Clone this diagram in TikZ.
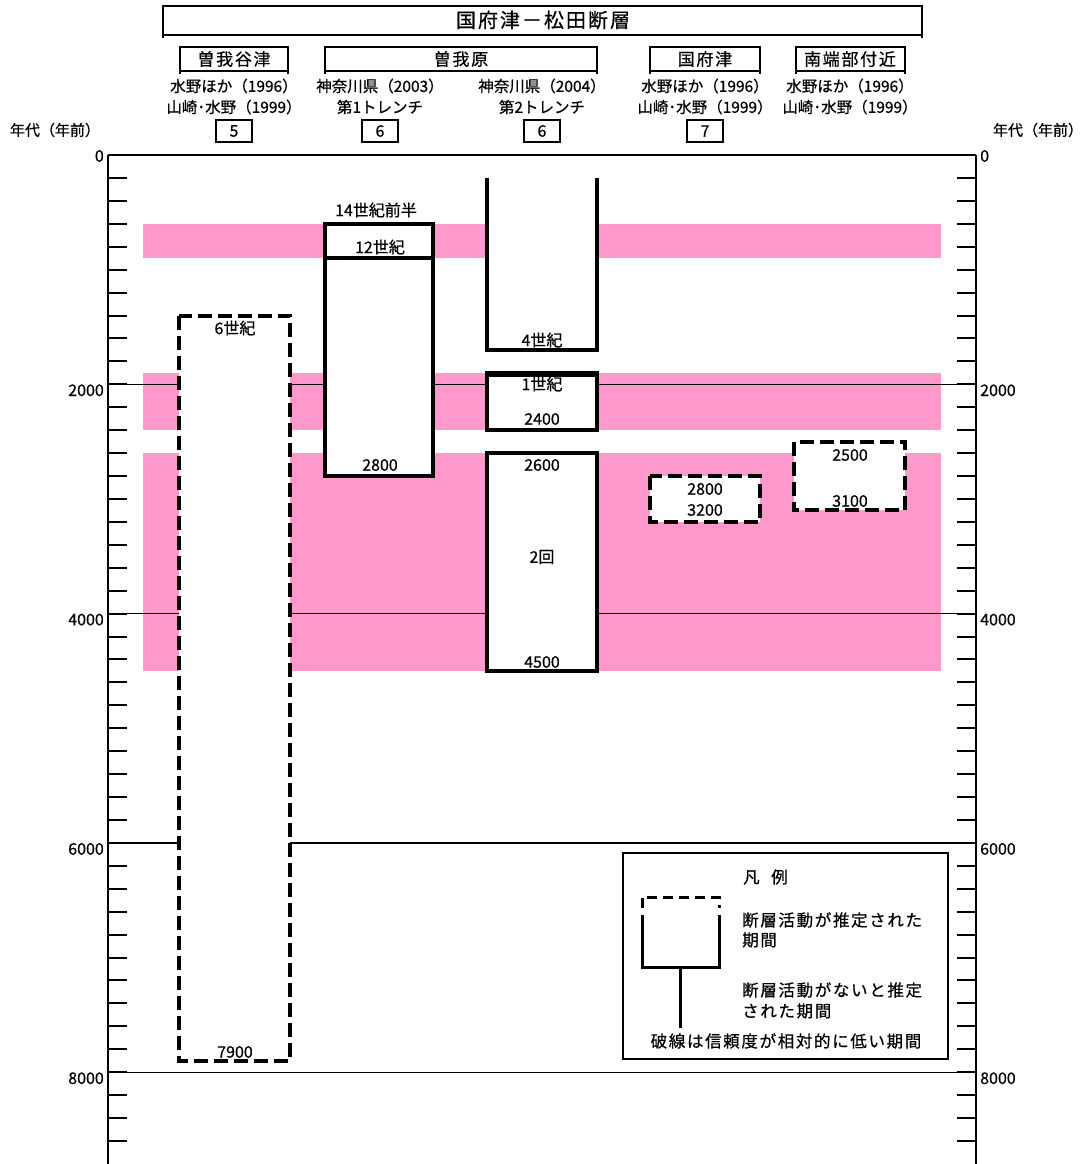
\documentclass[tikz,border=0pt]{standalone}
\usepackage{fontspec}
\setmainfont{Noto Sans CJK JP}[FakeBold=0.6]
\newfontfamily\trackfont{Noto Sans CJK JP}[LetterSpace=10,FakeBold=0.6]
\definecolor{bandpink}{RGB}{255,153,204}
\newcommand\ypos[1]{155+0.11465*#1}
\begin{document}
\begin{tikzpicture}[x=1pt,y=-1pt,
  every node/.style={inner sep=0pt},
  lbl/.style={font=\fontsize{16}{18}\selectfont},
  ref/.style={font=\fontsize{15.5}{17}\selectfont},
  axlbl/.style={font=\fontsize{15}{17}\selectfont},
  axnum/.style={font=\fontsize{16}{18}\selectfont},
  legtxt/.style={font=\trackfont\fontsize{16.5}{18}\selectfont},
  hdrline/.style={line width=1.5pt},
  numbox/.style={draw, line width=1.3pt, minimum width=36pt, minimum height=22pt, font=\fontsize{16}{18}\selectfont},
  solidbox/.style={draw, line width=4pt, fill=white},
  dashbox/.style={draw, line width=4pt, fill=white, dash pattern=on 14pt off 6pt},
  band/.style={fill=bandpink, draw=none},
  gridline/.style={line width=1.2pt},
  axisline/.style={line width=2pt},
  tickline/.style={line width=2pt},
]
\useasboundingbox (0,0) rectangle (1090,1164);

% ---------- header ----------
\node[font=\trackfont\fontsize{20}{22}\selectfont] (title) at (543,20) {国府津－松田断層};
\draw[hdrline] (163,6) rectangle (922,35);
\draw[hdrline] (163,35) -- (163,38) (922,35) -- (922,38);

\node[font=\trackfont\fontsize{17}{19}\selectfont] (hSoga) at (234,59) {曽我谷津};
\node[font=\trackfont\fontsize{17}{19}\selectfont] (hSogahara) at (461,59) {曽我原};
\node[font=\trackfont\fontsize{17}{19}\selectfont] (hKozu) at (705,59) {国府津};
\node[font=\trackfont\fontsize{17}{19}\selectfont] (hNan) at (850,59) {南端部付近};
\foreach \a/\b in {180/288,325/597,650/760,796/905}{
  \draw[hdrline] (\a,47) rectangle (\b,71);
  \draw[hdrline] (\a,71) -- (\a,74) (\b,71) -- (\b,74);
}

\node[ref] (r1a) at (234,86) {水野ほか（1996）};
\node[ref] (r1b) at (234,107) {山崎･水野（1999）};
\node[ref] (r2a) at (380,86) {神奈川県（2003）};
\node[ref] (r2b) at (380,107) {第1トレンチ};
\node[ref] (r3a) at (542,86) {神奈川県（2004）};
\node[ref] (r3b) at (542,107) {第2トレンチ};
\node[ref] (r4a) at (705,86) {水野ほか（1996）};
\node[ref] (r4b) at (705,107) {山崎･水野（1999）};
\node[ref] (r5a) at (850,86) {水野ほか（1996）};
\node[ref] (r5b) at (850,107) {山崎･水野（1999）};

\node[numbox] (n5) at (234,131) {5};
\node[numbox] (n6a) at (380,131) {6};
\node[numbox] (n6b) at (542,131) {6};
\node[numbox] (n7) at (705,131) {7};

\node[axlbl] (axL) at (55,130) {年代（年前）};
\node[axlbl] (axR) at (1038,130) {年代（年前）};

% ---------- bands ----------
\fill[band] (143,{\ypos{600}}) rectangle (941,{\ypos{900}});
\fill[band] (143,{\ypos{1900}}) rectangle (941,{\ypos{2400}});
\fill[band] (143,{\ypos{2600}}) rectangle (941,{\ypos{4500}});

% ---------- grid & axes ----------
\draw[gridline] (108,155) -- (976,155);
\foreach \v in {2000,4000,6000,8000}{
  \draw[gridline] (108,{\ypos{\v}}) -- (976,{\ypos{\v}});
}
\foreach \k in {1,...,43}{
  \draw[tickline] (108,{155+22.93*\k}) -- ++(19,0);
  \draw[tickline] (976,{155+22.93*\k}) -- ++(-19,0);
}
\draw[axisline] (108,155) -- (108,1164);
\draw[axisline] (976,155) -- (976,1164);

\node[axnum, anchor=east] (l0) at (104,156) {0};
\node[axnum, anchor=west] (r0) at (980,156) {0};
\foreach \v/\nm in {2000/a,4000/b,6000/c,8000/d}{
  \node[axnum, anchor=east] (lv\nm) at (104,{\ypos{\v}+6}) {\v};
  \node[axnum, anchor=west] (rv\nm) at (980,{\ypos{\v}+6}) {\v};
}

% ---------- columns ----------
% 曽我谷津
\draw[dashbox] (179,{\ypos{1400}}) rectangle (290,{\ypos{7900}});
% 第1トレンチ
\draw[solidbox] (325,{\ypos{600}}) rectangle (433,{\ypos{2800}});
\draw[line width=4pt] (325,{\ypos{900}}) -- (433,{\ypos{900}});
% 第2トレンチ
\fill[white] (487,{\ypos{200}}) rectangle (597,{\ypos{1700}});
\draw[line width=4pt] (487,{\ypos{200}}) -- (487,{\ypos{1700}}) -- (597,{\ypos{1700}}) -- (597,{\ypos{200}});
\draw[solidbox] (487,{\ypos{1900}}) rectangle (597,{\ypos{2400}});
\draw[line width=6pt] (485,{\ypos{1900}+1}) -- (599,{\ypos{1900}+1});
\draw[solidbox] (487,{\ypos{2600}}) rectangle (597,{\ypos{4500}});
% 国府津
\draw[dashbox] (650,{\ypos{2800}}) rectangle (760,{\ypos{3200}});
% 南端部付近
\draw[dashbox] (794,{\ypos{2500}}) rectangle (905,{\ypos{3100}});

\node[lbl] (s6c) at (235,328) {6世紀};
\node[lbl] (s79) at (235,1052) {7900};
\node[lbl] (t14c) at (376,210) {14世紀前半};
\node[lbl] (t12c) at (380,247) {12世紀};
\node[lbl] (t28) at (380,465) {2800};
\node[lbl] (t4c) at (542,340) {4世紀};
\node[lbl] (t1c) at (542,384) {1世紀};
\node[lbl] (t24) at (542,419) {2400};
\node[lbl] (t26) at (542,465) {2600};
\node[lbl] (t2k) at (542,557) {2回};
\node[lbl] (t45) at (542,662) {4500};
\node[lbl] (k28) at (705,489) {2800};
\node[lbl] (k32) at (705,510) {3200};
\node[lbl] (n25) at (850,455) {2500};
\node[lbl] (n31) at (850,501) {3100};

% ---------- legend ----------
\draw[line width=1.3pt, fill=white] (623,853) rectangle (948,1059);
\node[legtxt, anchor=west] (lg0) at (743,877) {凡\hspace{0.7em}例};
\draw[line width=3pt, dash pattern=on 10pt off 6pt] (642,908) -- (642,897) -- (719,897) -- (719,908);
\draw[line width=3pt] (642,915) -- (642,967) -- (719,967) -- (719,915);
\coordinate (stemTop) at (680,967);
\coordinate (stemBot) at (680,1028);
\draw[line width=3pt] (stemTop) -- (stemBot);
\node[legtxt, anchor=west] (lg1) at (742,920) {断層活動が推定された};
\node[legtxt, anchor=west] (lg2) at (742,940) {期間};
\node[legtxt, anchor=west] (lg3) at (742,990) {断層活動がないと推定};
\node[legtxt, anchor=west] (lg4) at (742,1011) {された期間};
\node[legtxt] (lg5) at (786,1041) {破線は信頼度が相対的に低い期間};
\end{tikzpicture}
\end{document}
